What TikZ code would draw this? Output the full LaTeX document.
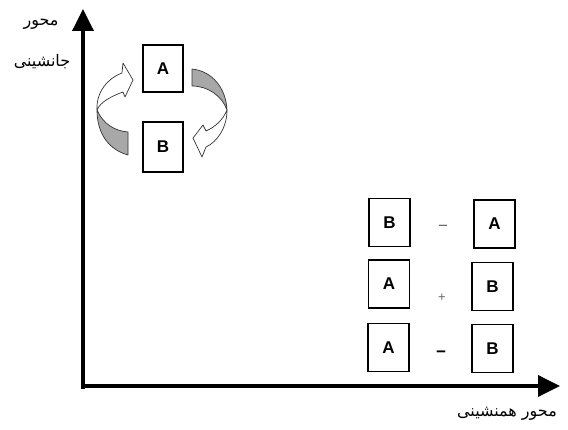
\documentclass[tikz,border=0pt]{standalone}
\usepackage{fontspec}
\setmainfont{Liberation Sans}
\newfontfamily\fa[Script=Arabic]{DejaVu Sans}
\TeXXeTstate=1
\usetikzlibrary{arrows.meta}
\definecolor{ribbon}{HTML}{A8A8A8}
\tikzset{
  letterbox/.style={draw=black, line width=1.1pt, minimum width=41pt, minimum height=48pt, inner sep=0pt, font=\fontsize{17}{17}\selectfont\bfseries},
  axis/.style={line width=3.6pt, -{Triangle[length=22pt,width=21pt]}},
  ribbonback/.style={fill=ribbon, draw=black!80, line width=0.7pt, line join=round},
  ribbonfront/.style={fill=white, draw=black!80, line width=0.7pt, line join=round},
  sign/.style={font=\fontsize{17}{17}\selectfont, text=black!60, inner sep=0pt},
  falabel/.style={font=\fa\fontsize{16}{18}\selectfont, inner sep=0pt, align=center}
}
\begin{document}
\begin{tikzpicture}[x=1pt,y=-1pt]
\useasboundingbox (0,0) rectangle (568,430);
% axes
\coordinate (ytop) at (83,9);
\coordinate (xend) at (560,386);
\coordinate (ystart) at (83,389);
\coordinate (xstart) at (81,386);
\draw[axis] (ystart) -- (ytop);
\draw[axis] (xstart) -- (xend);
% labels
\node[falabel] (ylab1) at (41,24) {\beginR محور\endR};
\node[falabel] (ylab2) at (42,62) {\beginR جانشینی\endR};
\node[falabel] (xlab) at (507,414) {\beginR محور همنشینی\endR};
% top boxes
\node[letterbox, minimum width=40pt, minimum height=47pt] (ta) at (163,68.5) {A};
\node[letterbox, minimum width=40pt, minimum height=50pt] (tb) at (163,147) {B};
% left ribbon arrow
\path[ribbonback] (97,110) .. controls (103,124) and (115,131) .. (128,132) -- (128,155) .. controls (110,150) and (97,135) .. (97,110) -- cycle;
\path[ribbonfront] (97,110) .. controls (96,92) and (108,78) .. (122,73) -- (123,63) -- (133,80) -- (125,97) -- (123,92) .. controls (112,96) and (100,102) .. (97,110) -- cycle;
% right ribbon arrow
\path[ribbonback] (192,69) .. controls (212,71) and (226,88) .. (227,110) .. controls (222,96) and (208,86) .. (192,86) -- cycle;
\path[ribbonfront] (227,110) .. controls (227,128) and (217,142) .. (206,147) -- (202,157) -- (193,138) -- (203,125) -- (206,131) .. controls (215,127) and (223,120) .. (227,110) -- cycle;
% right boxes
\node[letterbox] (r1l) at (389.5,222.5) {B};
\node[letterbox] (r1r) at (494.5,224) {A};
\node[letterbox] (r2l) at (389,284) {A};
\node[letterbox] (r2r) at (492.5,286.5) {B};
\node[letterbox] (r3l) at (388.5,347.5) {A};
\node[letterbox] (r3r) at (492.5,348.5) {B};
% signs
\node[sign] (s1) at (443,228) {−};
\node[sign, font=\fontsize{13}{13}\selectfont] (s2) at (442,298) {+};
\node[sign, text=black, font=\fontsize{17}{17}\selectfont\bfseries] (s3) at (441,354) {−};
\end{tikzpicture}
\end{document}
